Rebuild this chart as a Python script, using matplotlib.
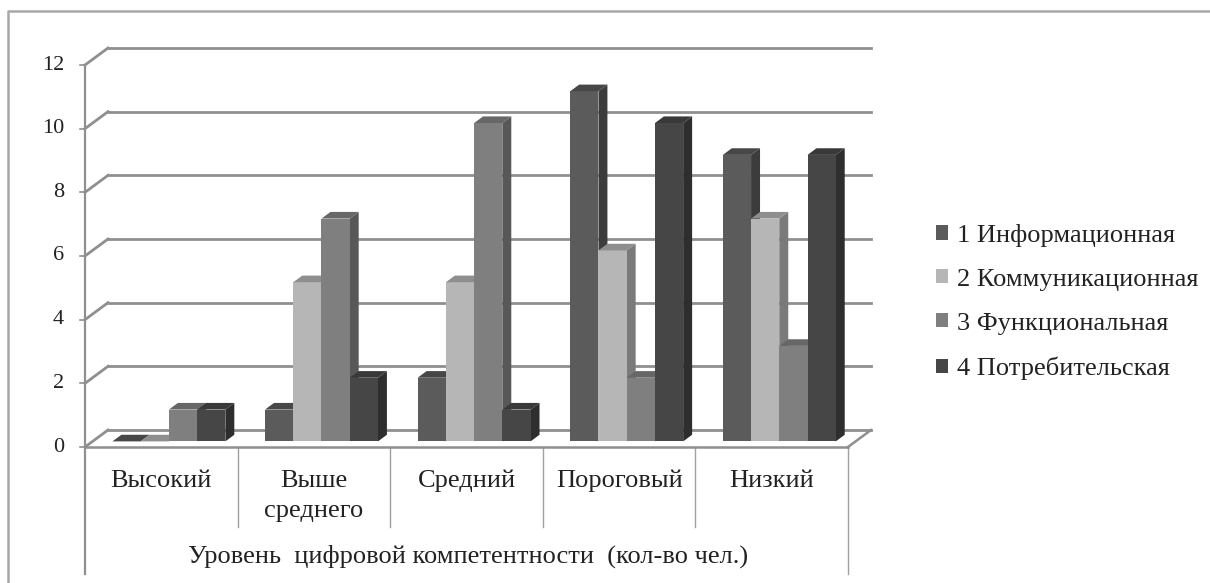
import matplotlib
matplotlib.use("Agg")
import matplotlib.pyplot as plt
from matplotlib.patches import Polygon, Patch
from matplotlib.lines import Line2D

# ---- data ----
categories = ["Высокий", "Выше\nсреднего", "Средний", "Пороговый", "Низкий"]
series_names = ["1 Информационная", "2 Коммуникационная",
                "3 Функциональная", "4 Потребительская"]
informational = [0, 1, 2, 11, 9]
communicational = [0, 5, 5, 6, 7]
functional = [1, 7, 10, 2, 3]
consumer = [1, 2, 1, 10, 9]
series_values = [informational, communicational, functional, consumer]
y_ticks = [0, 2, 4, 6, 8, 10, 12]
axis_title = "Уровень  цифровой компетентности  (кол-во чел.)"

# face colours: front, top, side
front_colors = ["#5b5b5b", "#b6b6b6", "#7f7f7f", "#464646"]
top_colors = ["#474747", "#8e8e8e", "#676767", "#393939"]
side_colors = ["#3c3c3c", "#7a7a7a", "#585858", "#2e2e2e"]

W, H = 1210, 583
plt.rcParams["font.family"] = ["Liberation Serif", "DejaVu Serif"]
fig = plt.figure(figsize=(W / 100, H / 100), dpi=100)
ax = fig.add_axes([0, 0, 1, 1])
ax.set_axis_off()

# pixel frame of the front plot area
PX0, PX1 = 85, 848      # x of category 0 and 5
PY0, PY12 = 447, 65     # y of value 0 and 12
n_cat = len(categories)
ymax = 12
sx = n_cat / (PX1 - PX0)
sy = ymax / (PY0 - PY12)
ax.set_xlim(-PX0 * sx, (W - PX0) * sx)
ax.set_ylim(-(H - PY0) * sy, PY0 * sy)


def X(px):
    return (px - PX0) * sx


def Y(py):
    return (PY0 - py) * sy


# oblique depth of the plot box
DX = 23 * sx
DY = 17 * sy


def proj(x, v, d):
    return (x + d * DX, v + d * DY)


grid_c = "#8f8f8f"
text_c = "#222222"
# back wall gridlines and their diagonal connectors
for t in y_ticks:
    ax.add_line(Line2D([proj(0, t, 1)[0], proj(n_cat, t, 1)[0]],
                       [proj(0, t, 1)[1]] * 2, color=grid_c, lw=2.0, zorder=1))
    ax.add_line(Line2D([0, proj(0, t, 1)[0]], [t, proj(0, t, 1)[1]],
                       color=grid_c, lw=2.0, zorder=1))
    ax.add_line(Line2D([X(PX0 - 5), 0], [t, t], color=grid_c, lw=1.2, zorder=1))
    ax.text(X(64), t, str(t), ha="right", va="center", fontsize=16,
            color=text_c)

# front vertical axis (extends down through the label area)
ax.add_line(Line2D([0, 0], [ymax, Y(574)], color=grid_c, lw=1.6, zorder=1))
# floor outline
ax.add_line(Line2D([0, n_cat], [0, 0], color=grid_c, lw=1.8, zorder=6))
ax.add_line(Line2D([n_cat, proj(n_cat, 0, 1)[0]], [0, proj(n_cat, 0, 1)[1]],
                   color=grid_c, lw=1.8, zorder=6))
ax.add_line(Line2D([n_cat, n_cat], [0, Y(574)], color="#a0a0a0", lw=1.0, zorder=1))
# category separators
for i in range(1, n_cat):
    ax.add_line(Line2D([i, i], [0, Y(527)], color="#a0a0a0", lw=1.0, zorder=1))

# 3D bars
n_ser = len(series_values)
bar_w = 0.185
group_w = bar_w * n_ser
d0, d1 = 0.33, 0.72
z = 3
for c in range(n_cat):
    for s in range(n_ser):
        v = series_values[s][c]
        xl = c + 0.5 - group_w / 2 + s * bar_w
        xr = xl + bar_w
        fl = proj(xl, 0, d0)
        fr = proj(xr, 0, d0)
        ftl = proj(xl, v, d0)
        ftr = proj(xr, v, d0)
        btl = proj(xl, v, d1)
        btr = proj(xr, v, d1)
        bbr = proj(xr, 0, d1)
        # side face
        ax.add_patch(Polygon([fr, ftr, btr, bbr], closed=True,
                             facecolor=side_colors[s], edgecolor="none", zorder=z))
        # front face
        if v > 0:
            ax.add_patch(Polygon([fl, fr, ftr, ftl], closed=True,
                                 facecolor=front_colors[s], edgecolor="none",
                                 zorder=z))
        # top face
        ax.add_patch(Polygon([ftl, ftr, btr, btl], closed=True,
                             facecolor=top_colors[s], edgecolor="none", zorder=z))
        z += 0.01

# category labels
for i, name in enumerate(categories):
    for k, ln in enumerate(name.split("\n")):
        ax.text(i + 0.5, Y(481 + 30 * k), ln, ha="center", va="center",
                fontsize=19, color=text_c)

ax.text(X(468), Y(556), axis_title, ha="center", va="center", fontsize=19,
        color=text_c)

# outer chart border (top and left edges)
ax.add_line(Line2D([X(8), X(8), X(W)], [Y(H), Y(10.5), Y(10.5)],
                   color="#a8a8a8", lw=1.8, zorder=1))

# legend
handles = [Patch(facecolor=front_colors[s], edgecolor="none") for s in range(n_ser)]
fig.legend(handles, series_names, loc="center left",
           bbox_to_anchor=(912 / W, 1 - 302 / H), frameon=False,
           fontsize=19, handlelength=0.45, handleheight=0.45,
           handletextpad=0.35, labelspacing=0.83, labelcolor=text_c)

fig.savefig("out.png", dpi=100)
